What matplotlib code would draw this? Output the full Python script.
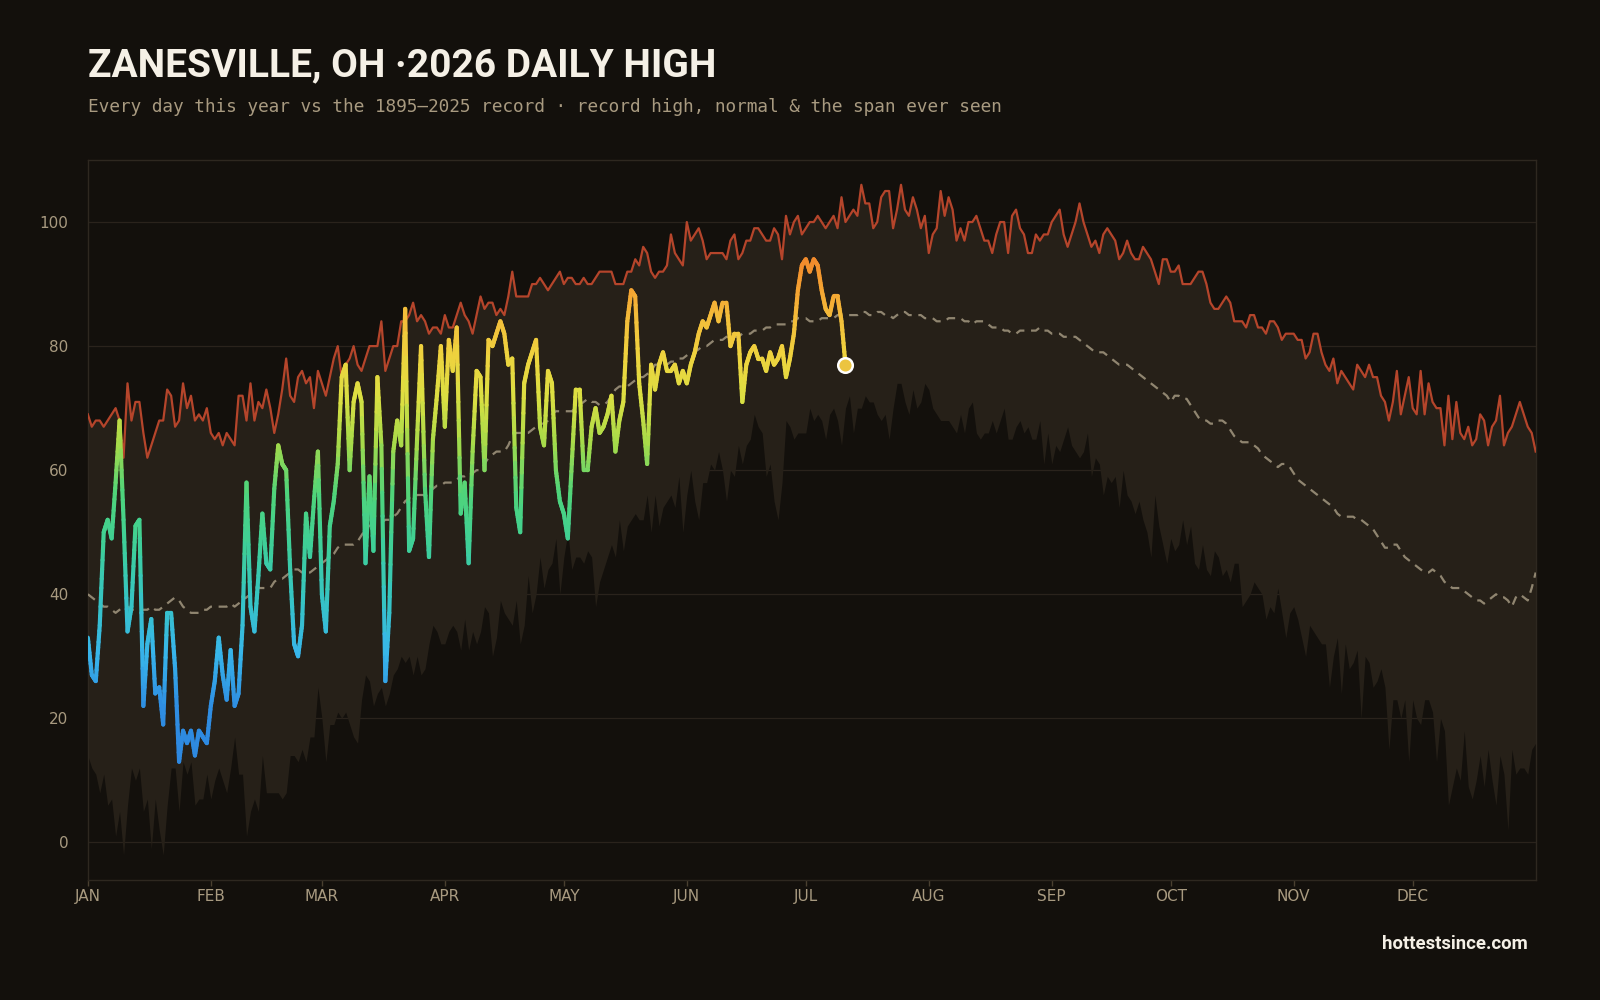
import numpy as np
import matplotlib.pyplot as plt
from matplotlib.collections import LineCollection
from matplotlib.colors import LinearSegmentedColormap, Normalize

# --- colours ---
BG = '#13100c'
BAND = '#262018'
RED = '#b5452b'
NORMAL_C = '#a39880'
MUTED = '#a89a80'
WHITE = '#f5f0e6'

# --- data (deg F) ---
months = ['JAN', 'FEB', 'MAR', 'APR', 'MAY', 'JUN', 'JUL', 'AUG', 'SEP', 'OCT', 'NOV', 'DEC']
month_start = [0, 31, 59, 90, 120, 151, 181, 212, 243, 273, 304, 334]

# record high for each calendar day, 1895-2025
rec_high = [
    69, 67, 68, 68, 67, 68, 69, 70, 68, 62,
    74, 68, 71, 71, 66, 62, 64, 66, 68, 68,
    73, 72, 67, 68, 74, 70, 72, 68, 69, 68,
    70, 66, 65, 66, 64, 66, 65, 64, 72, 72,
    68, 74, 68, 71, 70, 73, 70, 66, 69, 73,
    78, 72, 71, 75, 76, 74, 75, 70, 76, 74,
    72, 75, 78, 80, 75, 77, 78, 80, 77, 76,
    78, 80, 80, 80, 84, 76, 78, 80, 80, 84,
    84, 85, 87, 84, 85, 84, 82, 83, 83, 82,
    85, 83, 83, 85, 87, 85, 84, 82, 85, 88,
    86, 87, 87, 85, 86, 85, 88, 92, 88, 88,
    88, 88, 90, 90, 91, 90, 89, 90, 91, 92,
    90, 91, 91, 90, 90, 91, 90, 90, 91, 92,
    92, 92, 92, 90, 90, 90, 92, 92, 94, 93,
    96, 95, 92, 91, 92, 92, 93, 98, 95, 94,
    93, 100, 97, 98, 99, 97, 94, 95, 95, 95,
    95, 94, 97, 98, 94, 95, 97, 97, 99, 99,
    98, 97, 97, 99, 98, 94, 101, 98, 100, 101,
    98, 99, 100, 100, 101, 100, 99, 100, 101, 99,
    104, 100, 101, 102, 101, 106, 103, 103, 99, 100,
    104, 105, 105, 99, 102, 106, 102, 101, 104, 102,
    99, 101, 95, 98, 99, 105, 101, 104, 102, 97,
    99, 97, 100, 100, 101, 99, 97, 97, 95, 98,
    100, 100, 95, 101, 102, 99, 98, 95, 95, 98,
    97, 98, 98, 100, 101, 102, 98, 96, 98, 100,
    103, 100, 98, 96, 97, 95, 98, 99, 98, 97,
    94, 95, 97, 95, 94, 94, 96, 95, 94, 92,
    90, 94, 94, 92, 92, 93, 90, 90, 90, 91,
    92, 92, 90, 87, 86, 86, 87, 88, 87, 84,
    84, 84, 83, 85, 85, 83, 83, 82, 84, 84,
    83, 81, 82, 82, 82, 81, 81, 78, 79, 82,
    82, 79, 77, 76, 78, 74, 76, 75, 74, 73,
    77, 76, 75, 77, 75, 75, 72, 71, 68, 71,
    76, 69, 72, 75, 70, 69, 76, 69, 74, 71,
    70, 70, 64, 72, 65, 71, 66, 65, 67, 64,
    65, 69, 68, 64, 67, 68, 72, 64, 66, 67,
    69, 71, 69, 67, 66, 63,
]

# lowest daily high ever seen for each calendar day
rec_low = [
    14, 12, 11, 8, 11, 6, 7, 1, 5, -2,
    6, 12, 10, 12, 5, 7, -1, 7, 2, -2,
    6, 12, 12, 5, 13, 11, 13, 6, 7, 7,
    11, 7, 10, 12, 10, 8, 12, 17, 11, 11,
    1, 5, 7, 5, 14, 8, 8, 8, 8, 7,
    8, 14, 14, 13, 15, 13, 17, 17, 25, 20,
    13, 19, 19, 21, 20, 21, 19, 17, 16, 23,
    27, 26, 22, 24, 25, 22, 24, 27, 28, 30,
    29, 30, 27, 30, 27, 28, 32, 35, 34, 32,
    32, 34, 35, 34, 31, 36, 31, 34, 32, 34,
    38, 37, 30, 33, 39, 37, 36, 35, 39, 32,
    35, 43, 37, 40, 46, 41, 44, 45, 49, 40,
    46, 50, 44, 46, 46, 45, 47, 46, 38, 42,
    44, 46, 48, 46, 52, 47, 51, 52, 53, 52,
    52, 56, 50, 56, 51, 54, 55, 56, 54, 59,
    50, 56, 60, 55, 52, 58, 58, 61, 60, 63,
    60, 55, 60, 59, 64, 61, 64, 65, 69, 67,
    66, 59, 61, 55, 52, 58, 68, 67, 65, 66,
    66, 66, 70, 68, 69, 68, 65, 69, 70, 68,
    64, 70, 72, 66, 70, 70, 72, 71, 71, 69,
    68, 69, 65, 70, 74, 74, 71, 69, 73, 70,
    71, 74, 73, 70, 69, 68, 68, 68, 67, 66,
    69, 66, 70, 71, 66, 65, 66, 66, 68, 66,
    68, 70, 65, 65, 67, 68, 66, 67, 65, 65,
    68, 61, 66, 61, 64, 63, 65, 67, 64, 63,
    62, 63, 66, 59, 62, 61, 56, 59, 58, 59,
    54, 60, 56, 55, 53, 55, 52, 50, 46, 56,
    51, 48, 45, 49, 47, 48, 52, 48, 51, 45,
    44, 48, 44, 43, 47, 46, 43, 44, 42, 45,
    45, 38, 39, 40, 42, 41, 40, 36, 38, 37,
    41, 37, 33, 37, 38, 36, 33, 30, 35, 34,
    33, 32, 32, 25, 30, 33, 24, 32, 28, 29,
    31, 20, 30, 29, 25, 26, 28, 25, 15, 23,
    23, 20, 23, 13, 23, 20, 19, 23, 23, 21,
    13, 20, 18, 6, 9, 12, 10, 18, 9, 7,
    10, 14, 9, 15, 10, 6, 14, 11, 2, 15,
    11, 12, 12, 11, 15, 16,
]

# daily normal high
normal = [
    40, 39.5, 39, 38.5, 38, 38, 37.5, 37, 37.5, 38,
    38, 37.5, 37.5, 37.5, 37.5, 37.5, 38, 37.5, 37.5, 38,
    38.5, 39, 39.5, 39, 38, 37.5, 37, 37, 37, 37.5,
    37.5, 38, 38, 38, 38, 38, 38.5, 38, 38.5, 39,
    39.5, 40, 41, 41, 41, 41, 41, 42, 42.5, 42.5,
    43, 43.5, 44, 44, 43.5, 43.5, 43.5, 44, 44.5, 45,
    45.5, 46, 46.5, 47.5, 48, 48, 48, 48, 48.5, 49.5,
    50.5, 51, 51.5, 51.5, 51.5, 52, 52, 52.5, 53, 54,
    55, 55.5, 55.5, 56, 56, 56, 56.5, 57, 57.5, 57.5,
    58, 58, 58, 58.5, 59, 59, 59.5, 59.5, 60, 60,
    61, 62, 62.5, 63, 63, 63, 64, 65.5, 66, 66,
    66, 66, 66.5, 67, 67.5, 67.5, 68, 69, 69.5, 69.5,
    69.5, 69.5, 69.5, 70, 70.5, 71, 71.5, 71, 71, 70.5,
    70.5, 71, 72, 73, 73.5, 73.5, 73.5, 74, 74.5, 75,
    75, 75.5, 76, 77, 77, 77, 77, 77.5, 77.5, 78,
    78, 78.5, 79, 79, 79.5, 80, 80, 80.5, 81, 81,
    81, 81.5, 81.5, 81.5, 81.5, 82, 82, 82, 82.5, 82.5,
    82.5, 83, 83, 83.5, 83.5, 83.5, 83.5, 84, 84, 84.5,
    84.5, 84.5, 84, 84, 84, 84.5, 84.5, 84.5, 84.5, 85,
    85, 85, 85, 85, 85, 85.5, 85.5, 85, 85, 85.5,
    85.5, 85, 85, 84.5, 85, 85.5, 85.5, 85, 85, 85,
    85, 84.5, 84.5, 84.5, 84, 84, 84, 84.5, 84.5, 84.5,
    84.5, 84, 84, 83.5, 84, 84, 84, 83.5, 83, 83,
    83, 82.5, 82.5, 82, 82, 82.5, 82.5, 82.5, 82.5, 82.5,
    83, 82.5, 82.5, 82, 82, 82, 81.5, 81.5, 81.5, 81.5,
    81, 80.5, 80, 79.5, 79, 79, 79, 78.5, 78, 77.5,
    77, 77, 77, 76.5, 76, 75.5, 75, 74.5, 74, 73.5,
    73, 72.5, 72, 71, 72, 72, 71.5, 71.5, 70.5, 69.5,
    68.5, 68, 68, 67.5, 67.5, 68, 68, 67.5, 66.5, 65.5,
    65, 64.5, 64.5, 64.5, 64, 63.5, 62.5, 62, 61.5, 61,
    60.5, 61, 61, 60.5, 59.5, 58.5, 58, 57.5, 57, 56.5,
    56, 55.5, 55, 54.5, 54, 53, 52.5, 52.5, 52.5, 52.5,
    52, 52, 51.5, 51, 50.5, 49.5, 48.5, 47.5, 47.5, 48,
    48, 47, 46, 45.5, 45, 44.5, 44, 43.5, 43.5, 44,
    43.5, 43, 42, 41.5, 41, 41, 41, 40.5, 40, 39.5,
    39, 39, 38.5, 39, 39.5, 40, 39.5, 39.5, 39, 38,
    39.5, 40, 39.5, 39, 41, 43.5,
]

# 2026 daily high so far (Jan 1 - Jul 11)
y2026 = [
    33, 27, 26, 35, 50, 52, 49, 58, 68, 52,
    34, 38, 51, 52, 22, 32, 36, 24, 25, 19,
    37, 37, 28, 13, 18, 16, 18, 14, 18, 17,
    16, 22, 26, 33, 27, 23, 31, 22, 24, 35,
    58, 38, 34, 43, 53, 45, 44, 57, 64, 61,
    60, 44, 32, 30, 35, 53, 46, 55, 63, 40,
    34, 51, 55, 61, 75, 77, 60, 71, 74, 71,
    45, 59, 47, 75, 64, 26, 37, 63, 68, 64,
    86, 47, 49, 65, 80, 57, 46, 65, 72, 80,
    67, 81, 76, 83, 53, 58, 45, 63, 76, 75,
    60, 81, 80, 82, 84, 82, 77, 78, 54, 50,
    74, 77, 79, 81, 67, 64, 76, 74, 60, 55,
    53, 49, 61, 73, 73, 60, 60, 67, 70, 66,
    67, 69, 72, 63, 68, 71, 84, 89, 88, 74,
    68, 61, 77, 73, 77, 79, 76, 76, 77, 74,
    76, 74, 77, 79, 82, 84, 83, 85, 87, 84,
    87, 87, 80, 82, 82, 71, 77, 79, 80, 78,
    78, 76, 79, 77, 78, 80, 75, 78, 82, 89,
    93, 94, 92, 94, 93, 89, 86, 85, 88, 88,
    84, 77,
]

days = np.arange(len(rec_high))
d26 = np.arange(len(y2026))
y26 = np.array(y2026, dtype=float)

# temperature colour scale for this year's line
temp_cmap = LinearSegmentedColormap.from_list('temp', [
    (0.00, '#2d86df'),
    (0.14, '#2f8ee2'),
    (0.24, '#38b6ea'),
    (0.34, '#36c4c4'),
    (0.44, '#3ecf98'),
    (0.54, '#4fd47a'),
    (0.63, '#a4da4a'),
    (0.72, '#dcdf42'),
    (0.80, '#efd23e'),
    (0.87, '#f3bc3a'),
    (0.92, '#f5a432'),
    (1.00, '#f0802a'),
])
norm = Normalize(vmin=10, vmax=96)

fig = plt.figure(figsize=(16, 10), dpi=100)
fig.patch.set_facecolor(BG)
ax = fig.add_axes([0.0549, 0.1204, 0.9049, 0.7196])
ax.set_facecolor(BG)

# span ever seen
ax.fill_between(days, rec_low, rec_high, color=BAND, lw=0, zorder=1)
ax.plot(days, rec_high, color=RED, lw=1.6, zorder=3)
ax.plot(days, normal, color=NORMAL_C, lw=1.6, ls=(0, (4, 3)), alpha=0.85, zorder=3)

# this year's line, coloured by temperature (each day-to-day step split for a smooth gradient)
steps = 10
segs, cols = [], []
for i in range(len(y26) - 1):
    xs = np.linspace(d26[i], d26[i + 1], steps + 1)
    ys = np.linspace(y26[i], y26[i + 1], steps + 1)
    for k in range(steps):
        segs.append([(xs[k], ys[k]), (xs[k + 1], ys[k + 1])])
        cols.append(temp_cmap(norm((ys[k] + ys[k + 1]) / 2)))
lc = LineCollection(segs, colors=cols, linewidths=3.0, capstyle='round', joinstyle='round', zorder=5)
ax.add_collection(lc)
ax.scatter([d26[-1]], [y26[-1]], s=110, color='#ecc440',
           edgecolor='white', linewidth=1.8, zorder=6)

# axes cosmetics
ax.set_xlim(0, 365)
ax.set_ylim(-6, 110)
ax.set_yticks([0, 20, 40, 60, 80, 100])
ax.set_xticks(month_start)
ax.set_xticklabels(months)
ax.grid(axis='y', color='#2a231c', lw=0.9, zorder=0)
ax.set_axisbelow(True)
for s in ax.spines.values():
    s.set_color('#2e2820')
    s.set_linewidth(1.0)
ax.tick_params(axis='y', length=0, pad=14, labelcolor=MUTED, labelsize=11)
ax.tick_params(axis='x', length=4, width=1, color='#4a4030', pad=3, labelcolor=MUTED, labelsize=11)

# titles
fig.text(0.0549, 0.9235, 'ZANESVILLE, OH \u00b72026 DAILY HIGH', color=WHITE,
         fontsize=28, fontweight='bold', family='Roboto', va='baseline')
fig.text(0.0549, 0.8885, 'Every day this year vs the 1895\u20132025 record \u00b7 record high, normal & the span ever seen',
         color=MUTED, fontsize=12.75, family='DejaVu Sans Mono', va='baseline')
fig.text(0.9548, 0.051, 'hottestsince.com', color=WHITE, fontsize=13.3, fontweight='bold',
         family='Roboto', ha='right', va='baseline')

fig.savefig('out.png', dpi=100, facecolor=BG)
